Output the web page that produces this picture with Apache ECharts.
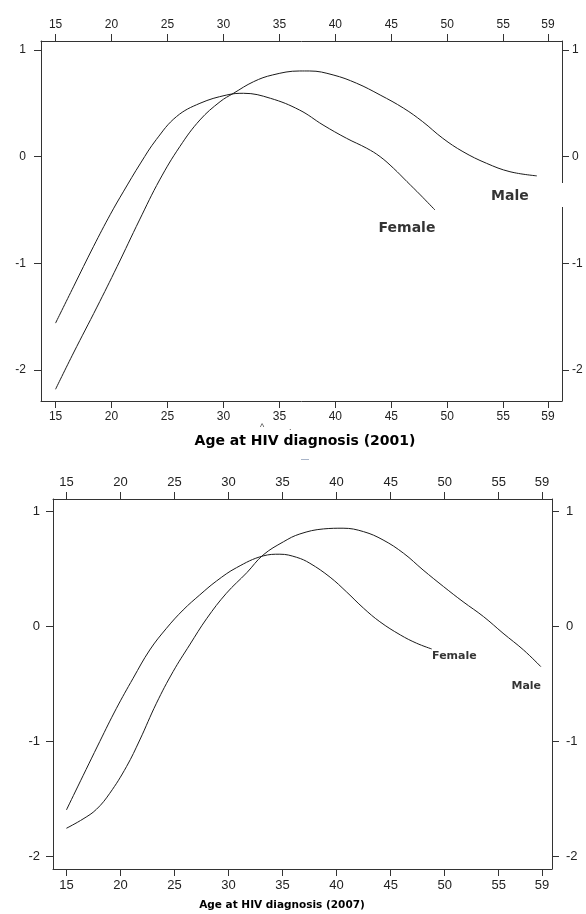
<!DOCTYPE html>
<html>
<head>
<meta charset="utf-8">
<script src="https://cdn.jsdelivr.net/npm/echarts@6/dist/echarts.min.js"></script>
<style>
  html, body { margin: 0; padding: 0; background: #fff; }
  #chart { width: 586px; height: 914px; }
</style>
</head>
<body>
<div id="chart"></div>
<script>
// tick labels
var ageTicks = [15, 20, 25, 30, 35, 40, 45, 50, 55, 59];
var effectTicks = [-2, -1, 0, 1];

// 2001 curves (age, effect)
var female2001Age = [15, 16.6, 18.4, 19.9, 21.05, 22.6, 24.0, 25.8, 27.9, 30.3, 31.8, 34.2, 36.8, 38.9, 41.0, 42.8, 44.0, 45.2, 46.4, 47.6, 48.9];
var female2001Val = [-1.56, -1.22, -0.84, -0.54, -0.33, -0.06, 0.16, 0.375, 0.50, 0.578, 0.594, 0.547, 0.437, 0.297, 0.172, 0.079, 0.0, -0.109, -0.234, -0.359, -0.50];
var male2001Age = [15, 16.6, 18.7, 20.5, 22.5, 24.3, 26.1, 27.9, 29.7, 30.9, 32.7, 34.4, 36.8, 37.7, 39.8, 41.9, 44.0, 46.1, 47.8, 49.6, 51.4, 53.5, 55.6, 58.0];
var male2001Val = [-2.18, -1.84, -1.41, -1.03, -0.593, -0.218, 0.094, 0.344, 0.515, 0.594, 0.703, 0.766, 0.803, 0.803, 0.766, 0.688, 0.578, 0.454, 0.328, 0.172, 0.047, -0.062, -0.141, -0.18];

// 2007 curves
var female2007Age = [15, 18.08, 19.63, 21.17, 22.71, 24.26, 25.8, 27.34, 28.89, 30.74, 33.2, 34.75, 36.3, 37.53, 39.4, 40.9, 42.5, 44.0, 45.9, 47.4, 48.8];
var female2007Val = [-1.594, -1.0, -0.71, -0.449, -0.203, -0.014, 0.145, 0.276, 0.397, 0.513, 0.615, 0.63, 0.603, 0.551, 0.43, 0.304, 0.16, 0.043, -0.072, -0.144, -0.194];
var male2007Age = [15, 16.54, 17.78, 19.01, 20.56, 21.79, 23.33, 24.87, 26.4, 28.0, 29.8, 31.7, 33.2, 35.1, 36.6, 38.8, 40.6, 42.5, 44.3, 46.2, 48.0, 49.9, 51.7, 53.6, 55.4, 57.3, 58.9];
var male2007Val = [-1.753, -1.672, -1.588, -1.449, -1.217, -0.985, -0.666, -0.391, -0.159, 0.073, 0.29, 0.47, 0.623, 0.739, 0.806, 0.85, 0.856, 0.826, 0.754, 0.638, 0.493, 0.348, 0.217, 0.087, -0.057, -0.203, -0.348];

// curve name labels: [age, effect, text]
var labels2001 = [[46.4, -0.67, 'Female'], [55.6, -0.37, 'Male']];
var labels2007 = [[50.9, -0.252, 'Female'], [57.55, -0.516, 'Male']];

function zip(a, b) {
  return a.map(function (x, i) { return [x, b[i]]; });
}

var chart = echarts.init(document.getElementById('chart'), null, { renderer: 'canvas' });

var lineCol = '#333';
var textCol = '#222';

function xAx(grid, pos, min, max, font) {
  return {
    type: 'value', gridIndex: grid, position: pos, min: min, max: max,
    axisLine: { show: true, onZero: false, lineStyle: { color: lineCol, width: 1 } },
    axisTick: { show: true, inside: false, length: 7, customValues: ageTicks, lineStyle: { color: lineCol } },
    axisLabel: { show: true, customValues: ageTicks, margin: 10, color: textCol, fontFamily: font.family, fontSize: font.size },
    splitLine: { show: false }
  };
}
function yAx(grid, pos, min, max, font, margin) {
  return {
    type: 'value', gridIndex: grid, position: pos, min: min, max: max,
    axisLine: { show: true, onZero: false, lineStyle: { color: lineCol, width: 1 } },
    axisTick: { show: true, inside: false, length: 7, customValues: effectTicks, lineStyle: { color: lineCol } },
    axisLabel: { show: true, customValues: effectTicks, margin: margin, color: textCol, fontFamily: font.family, fontSize: font.size },
    splitLine: { show: false }
  };
}

var fontTop = { family: 'Liberation Sans', size: 12 };
var fontBot = { family: '"Liberation Sans Narrow", "Liberation Sans"', size: 13 };

function curve(name, x, y, data) {
  return {
    name: name, type: 'line', xAxisIndex: x, yAxisIndex: y, data: data,
    smooth: 0.4, showSymbol: false, symbol: 'none',
    lineStyle: { color: '#1a1a1a', width: 1 }, silent: true
  };
}
function tags(x, y, arr, size) {
  return {
    type: 'scatter', xAxisIndex: x, yAxisIndex: y, symbolSize: 0, silent: true,
    itemStyle: { color: 'transparent' },
    data: arr.map(function (d) { return { value: [d[0], d[1]], name: d[2] }; }),
    label: {
      show: true, position: 'inside', formatter: '{b}', color: '#000',
      fontFamily: 'DejaVu Sans', fontWeight: 'bold', fontSize: size
    }
  };
}

var option = {
  animation: false,
  backgroundColor: '#fff',
  grid: [
    { left: 41, top: 41, width: 521, height: 360 },
    { left: 53, top: 499, width: 499, height: 370 }
  ],
  xAxis: [
    xAx(0, 'bottom', 13.7, 60.25, fontTop),
    xAx(0, 'top', 13.7, 60.25, fontTop),
    xAx(1, 'bottom', 13.76, 59.93, fontBot),
    xAx(1, 'top', 13.76, 59.93, fontBot)
  ],
  yAxis: [
    yAx(0, 'left', -2.29, 1.084, fontTop, 15),
    yAx(0, 'right', -2.29, 1.084, fontTop, 10),
    yAx(1, 'left', -2.107, 1.11, fontBot, 13),
    yAx(1, 'right', -2.107, 1.11, fontBot, 14)
  ],
  series: [
    curve('Female 2001', 0, 0, zip(female2001Age, female2001Val)),
    curve('Male 2001', 0, 0, zip(male2001Age, male2001Val)),
    tags(0, 0, labels2001, 14),
    curve('Female 2007', 2, 2, zip(female2007Age, female2007Val)),
    curve('Male 2007', 2, 2, zip(male2007Age, male2007Val)),
    tags(2, 2, labels2007, 11)
  ],
  graphic: [
    // gap in right axis line beside the "Male" label
    { type: 'rect', shape: { x: 559, y: 183, width: 7, height: 24 }, style: { fill: '#fff' }, z: 100 },
    { type: 'text', x: 305, y: 441, style: { text: 'Age at HIV diagnosis (2001)', align: 'center', verticalAlign: 'middle', fontFamily: 'DejaVu Sans', fontWeight: 'bold', fontSize: 14, fill: '#000' } },
    { type: 'text', x: 260, y: 423, style: { text: '^', fontSize: 9, fill: '#444' } },
    { type: 'text', x: 289, y: 423, style: { text: '.', fontSize: 9, fill: '#444' } },
    { type: 'rect', shape: { x: 301, y: 459, width: 8, height: 1 }, style: { fill: '#a8b4c8' } },
    { type: 'text', x: 282, y: 905, style: { text: 'Age at HIV diagnosis (2007)', align: 'center', verticalAlign: 'middle', fontFamily: 'DejaVu Sans', fontWeight: 'bold', fontSize: 10.5, fill: '#000' } }
  ]
};

chart.setOption(option);
</script>
</body>
</html>
